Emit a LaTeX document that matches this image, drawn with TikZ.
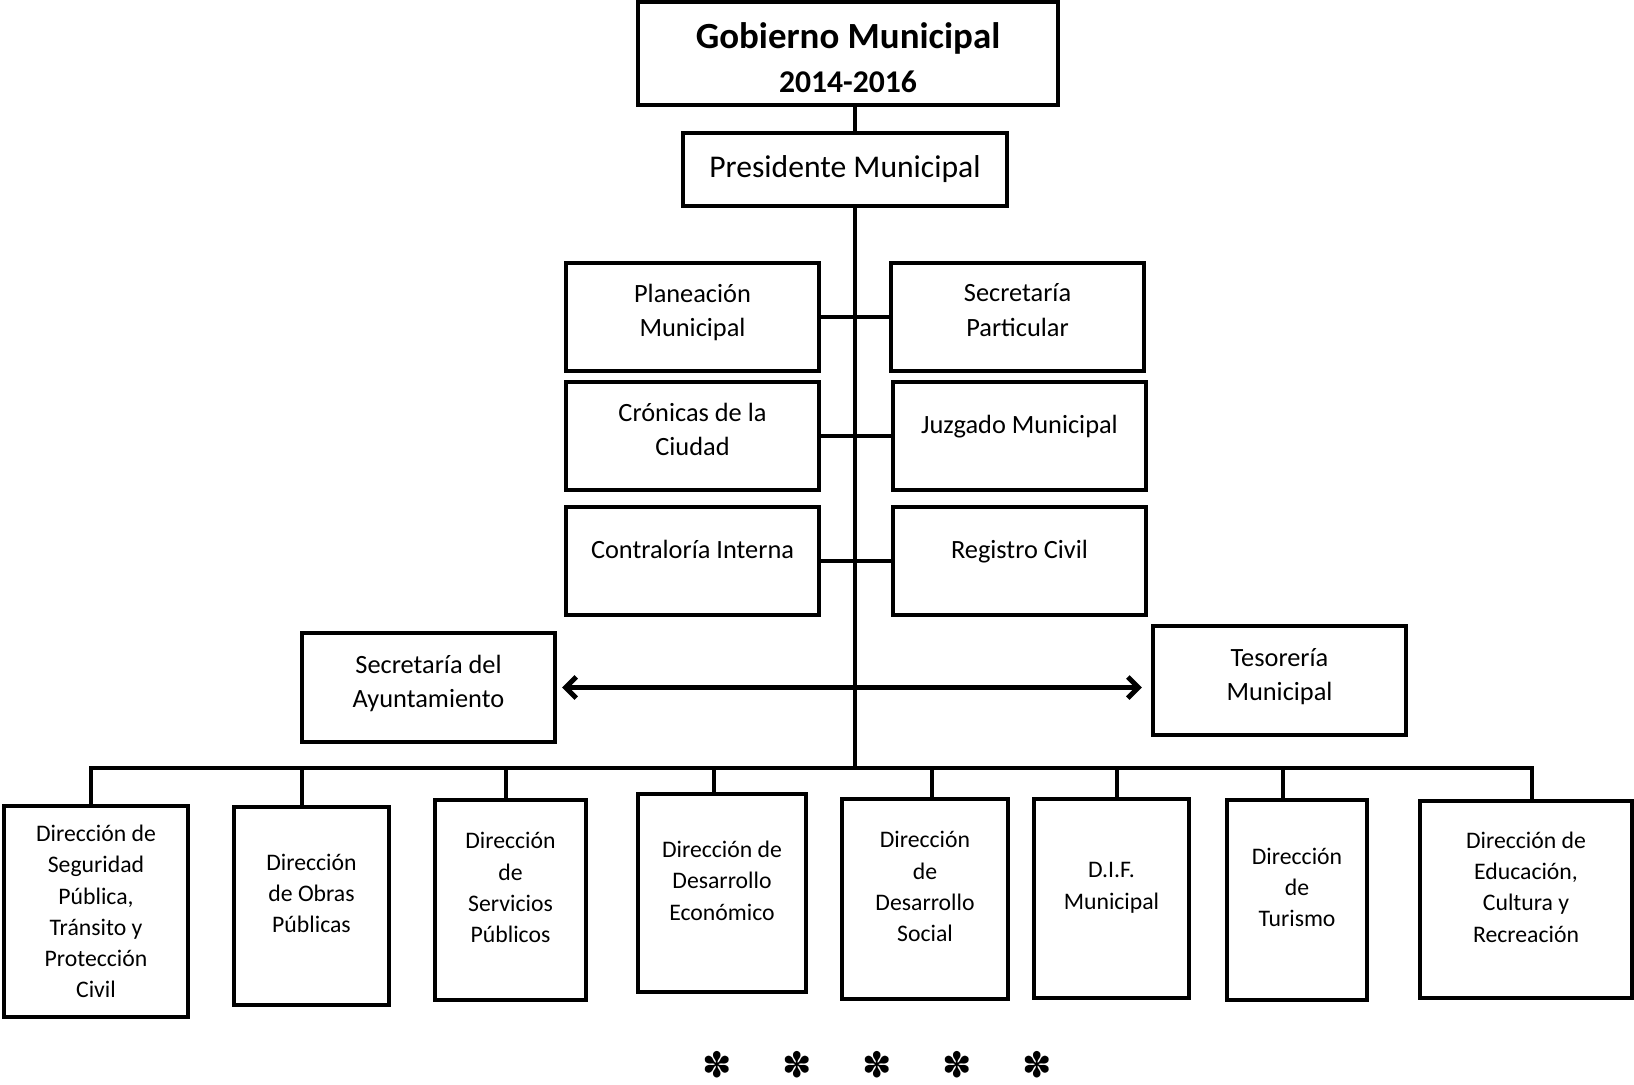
\documentclass[tikz,border=0pt]{standalone}
\usepackage{fontspec}
\setmainfont{Carlito}
\newfontfamily\dingfont{DejaVu Sans}
\usetikzlibrary{arrows.meta}

\begin{document}
\begin{tikzpicture}[
  box/.style={draw,rectangle,line width=2.5pt,align=center,inner sep=2pt},
  midbox/.style={box,minimum width=5.06cm,minimum height=2.16cm,font=\fontsize{15}{19.5}\selectfont},
  dirbox/.style={box,minimum height=4cm,font=\fontsize{13.5}{17.8}\selectfont},
  lift/.style={text depth=#1},
  link/.style={line width=2.6pt}
]
\useasboundingbox (0,0) rectangle (32.68,-21.68);

% Top
\node[box,minimum width=8.4cm,minimum height=2.06cm,text height=1.55cm,text depth=0pt,font=\fontsize{21}{25}\selectfont\bfseries] (gob) at (16.96,-1.07) {Gobierno Municipal\\{\fontsize{18}{22}\selectfont 2014-2016}};
\node[box,minimum width=6.48cm,minimum height=1.46cm,font=\fontsize{18}{22}\selectfont] (pres) at (16.9,-3.39) {Presidente Municipal};

% Staff offices
\node[midbox,lift=0.28cm] (plan) at (13.85,-6.34) {Planeación\\Municipal};
\node[midbox,lift=0.28cm] (secp) at (20.35,-6.34) {Secretaría\\Particular};
\node[midbox,lift=0.28cm] (cron) at (13.85,-8.72) {Crónicas de la\\Ciudad};
\node[midbox,lift=0.46cm] (juz) at (20.39,-8.72) {Juzgado Municipal};
\node[midbox,lift=0.46cm] (contra) at (13.85,-11.22) {Contraloría Interna};
\node[midbox,lift=0.46cm] (reg) at (20.39,-11.22) {Registro Civil};

% Secretaria and Tesoreria
\node[midbox,minimum height=2.18cm,lift=0.25cm] (secay) at (8.57,-13.75) {Secretaría del\\Ayuntamiento};
\node[midbox,minimum height=2.18cm,lift=0.25cm] (teso) at (25.59,-13.61) {Tesorería\\Municipal};

% Direcciones
\node[dirbox,minimum width=3.68cm,minimum height=4.22cm] (d1) at (1.92,-18.23) {Dirección de\\Seguridad\\Pública,\\Tránsito y\\Protección\\Civil};
\node[dirbox,minimum width=3.1cm,minimum height=3.96cm,lift=0.5cm] (d2) at (6.23,-18.12) {Dirección\\de Obras\\Públicas};
\node[dirbox,minimum width=3.02cm,lift=0.5cm] (d3) at (10.21,-18.0) {Dirección\\de\\Servicios\\Públicos};
\node[dirbox,minimum width=3.36cm,minimum height=3.96cm,lift=0.5cm] (d4) at (14.44,-17.86) {Dirección de\\Desarrollo\\Económico};
\node[dirbox,minimum width=3.32cm,lift=0.5cm] (d5) at (18.5,-17.98) {Dirección\\de\\Desarrollo\\Social};
\node[dirbox,minimum width=3.1cm,minimum height=3.98cm,lift=0.5cm] (d6) at (22.23,-17.97) {D.I.F.\\Municipal};
\node[dirbox,minimum width=2.8cm,lift=0.5cm] (d7) at (25.94,-18.0) {Dirección\\de\\Turismo};
\node[dirbox,minimum width=4.24cm,minimum height=3.94cm,lift=0.5cm] (d8) at (30.52,-17.99) {Dirección de\\Educación,\\Cultura y\\Recreación};

% Lines
\coordinate (trunk) at (17.1,0);
\coordinate (bus) at (17.1,-15.36);
\draw[link] (gob.south -| trunk) -- (pres.north -| trunk);
\draw[link] (pres.south -| trunk) -- (bus);
\draw[link] (plan.east) -- (secp.west);
\draw[link] (cron.east) -- (juz.west);
\draw[link] (contra.east) -- (reg.west);
\draw[link,line width=2.8pt,{Straight Barb[length=6pt,width=12pt]}-{Straight Barb[length=6pt,width=12pt]},shorten <=0.1cm,shorten >=0.18cm] (secay.east) -- (secay.east -| teso.west);

% Bus to direcciones
\draw[link] ([xshift=-0.1cm]d1.north) -- ([xshift=-0.1cm]d1.north |- bus) -- ([xshift=0.12cm]d8.north |- bus) -- ([xshift=0.12cm]d8.north);
\foreach \i/\dx in {2/-0.19,3/-0.09,4/-0.16,5/0.14,6/0.11,7/-0.28}
  \draw[link] ([xshift=\dx cm]d\i.north) -- ([xshift=\dx cm]d\i.north |- bus);

% Closing marks
\foreach \x [count=\i] in {14.34,15.94,17.54,19.14,20.74}
  \node[font=\dingfont\fontsize{20}{20}\selectfont] (ast\i) at (\x,-21.3) {✽};
\end{tikzpicture}
\end{document}
